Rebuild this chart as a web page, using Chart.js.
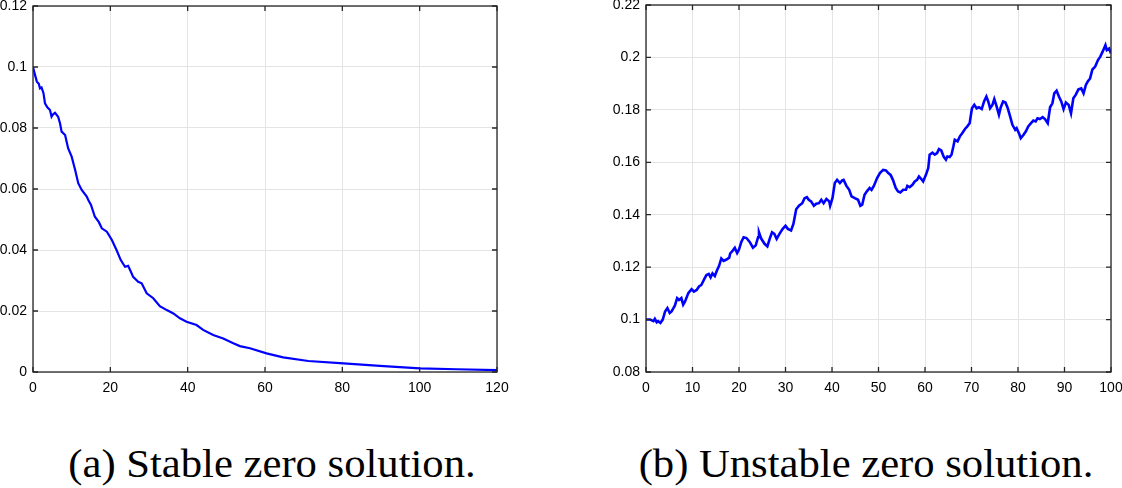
<!DOCTYPE html>
<html>
<head>
<meta charset="utf-8">
<script src="https://cdn.jsdelivr.net/npm/chart.js@4/dist/chart.umd.min.js"></script>
<style>
  body { margin: 0; background: #fff; width: 1122px; height: 488px; position: relative; overflow: hidden; }
  .panel { position: absolute; top: 0; height: 400px; }
  .caption {
    position: absolute; top: 441px; width: 600px; text-align: center;
    font-family: "Liberation Serif", "DejaVu Serif", serif; font-size: 41px; line-height: 44px; color: #000;
    transform: scaleX(1.04);
  }
</style>
</head>
<body>
<div class="panel" style="left:0; width:520px;"><canvas id="stable-chart"></canvas></div>
<div class="panel" style="left:560px; width:562px;"><canvas id="unstable-chart"></canvas></div>
<div class="caption" style="left:-28px;">(a) Stable zero solution.</div>
<div class="caption" style="left:566px;">(b) Unstable zero solution.</div>
<script>
// (a) stable solution
const stableT = [0, 0.5, 1, 1.5, 1.8, 2.2, 2.7, 3.1, 3.7, 4.4, 4.8, 5.2, 5.7, 6.5, 7, 7.4, 8.3, 9.1, 10, 10.9, 11.7, 12.6, 13.9,
  14.3, 15, 16, 17, 17.8, 19.1, 20.4, 21.6, 22.7, 23.8, 24.6, 25.2, 25.9, 27.2, 28.1, 29.4, 31.1, 32.8, 34.6, 36.3, 38,
  39.7, 42.3, 44, 46.6, 49.2, 51.8, 53.5, 56.1, 60.4, 64.7, 71.2, 80.3, 89.7, 100, 109.6, 120];
const stableY = [0.1, 0.0975, 0.0952, 0.0945, 0.093, 0.0933, 0.0915, 0.0881, 0.0868, 0.0859, 0.0837, 0.0845, 0.085, 0.0837, 0.0815, 0.0788, 0.0777, 0.0733, 0.0706, 0.0662, 0.0619, 0.0597, 0.0575,
  0.0564, 0.0548, 0.0509, 0.0492, 0.0471, 0.046, 0.0433, 0.04, 0.0367, 0.0345, 0.0348, 0.0332, 0.0312, 0.0296, 0.0291, 0.0258, 0.0242, 0.0216, 0.0203, 0.0192, 0.0176,
  0.0165, 0.0154, 0.0138, 0.0121, 0.011, 0.0094, 0.0085, 0.0078, 0.0061, 0.0048, 0.0036, 0.0028, 0.002, 0.0012, 0.0009, 0.0006];

// (b) unstable solution
const unstableT = [0, 0.9, 1.6, 1.9, 2.3, 2.6, 3.1, 3.6, 4.1, 4.6, 5.1, 5.5, 5.9, 6.2, 6.7, 7.1, 7.6, 8, 8.4, 9.1, 9.8, 10.3, 10.9, 11.4, 11.9,
  12.6, 13, 13.5, 13.9, 14.3, 14.8, 15.3, 15.7, 16.2, 16.7, 17.3, 17.9, 18.1, 18.7, 19.1, 19.6, 20, 20.5, 21, 21.6, 22.3, 23, 23.6, 24.1, 24.3,
  24.8, 25.5, 26.1, 26.6, 27.1, 27.6, 28.1, 28.7, 29.4, 30, 30.5, 31.2, 31.7, 32.3, 32.9, 33.6, 34.1, 34.6, 35, 35.5, 36.1, 36.6, 37.2, 37.7,
  38.2, 38.8, 39.4, 39.6, 40.1, 40.6, 41.1, 41.7, 42.2, 42.5, 43.1, 43.7, 44.2, 44.9, 45.6, 46.1, 46.5, 47, 47.5, 48.1, 48.5, 49, 49.7, 50.3,
  51, 51.6, 52.1, 52.6, 53.1, 53.7, 54.2, 54.7, 55.3, 55.9, 56.2, 56.7, 57.3, 57.8, 58.3, 58.7, 59.2, 59.6, 60.2, 60.7, 61, 61.6, 62.1, 62.6,
  63, 63.5, 64, 64.5, 64.8, 65.3, 65.7, 66.1, 66.4, 67, 67.5, 68, 68.6, 69.1, 69.6, 70.1, 70.6, 71.1, 71.6, 72.2, 72.7, 73.2, 73.6, 74, 74.5,
  74.9, 75.4, 75.9, 76.3, 76.8, 77.3, 77.8, 78.3, 78.8, 79.4, 79.7, 80.2, 80.6, 81.2, 81.7, 82.2, 82.8, 83.3, 83.8, 84.2, 84.7, 85.3, 85.8,
  86.4, 86.9, 87.4, 87.8, 88.3, 88.8, 89.3, 89.8, 90.3, 90.9, 91.4, 91.9, 92.4, 93, 93.6, 94.1, 94.6, 95, 95.5, 96, 96.6, 97.2, 97.7, 98.2,
  98.8, 99.1, 99.6, 100];
const unstableY = [0.1, 0.1, 0.0994, 0.1003, 0.099, 0.0994, 0.0987, 0.1, 0.1031, 0.1044, 0.1025, 0.1031, 0.1044, 0.1053, 0.1082, 0.1075, 0.1082, 0.1057, 0.1069, 0.1101, 0.1116, 0.1107, 0.1113, 0.1126, 0.1132,
  0.1157, 0.117, 0.1174, 0.1161, 0.1176, 0.1166, 0.1189, 0.1204, 0.1233, 0.1224, 0.1229, 0.1236, 0.1252, 0.1264, 0.1274, 0.1254, 0.1267, 0.1296, 0.1314, 0.1311, 0.1296, 0.1274, 0.1283, 0.1314, 0.1333,
  0.1308, 0.1289, 0.1279, 0.1308, 0.1333, 0.1327, 0.1308, 0.1327, 0.1346, 0.1358, 0.1346, 0.134, 0.1365, 0.1421, 0.1434, 0.1444, 0.1463, 0.1467, 0.1457, 0.1451, 0.1434, 0.1442, 0.1444, 0.1457,
  0.1444, 0.146, 0.1451, 0.1434, 0.1463, 0.1521, 0.1533, 0.1521, 0.1531, 0.1533, 0.151, 0.1495, 0.147, 0.1463, 0.1457, 0.1434, 0.1438, 0.1476, 0.1489, 0.1502, 0.1495, 0.151, 0.154, 0.1559,
  0.1571, 0.1569, 0.1559, 0.1552, 0.1533, 0.1502, 0.1489, 0.1485, 0.1495, 0.1495, 0.151, 0.1505, 0.1514, 0.1527, 0.1533, 0.1546, 0.1536, 0.1527, 0.1552, 0.1578, 0.1629, 0.1637, 0.1629, 0.1635,
  0.165, 0.1645, 0.1622, 0.161, 0.1622, 0.162, 0.1629, 0.166, 0.1686, 0.168, 0.1699, 0.1711, 0.1727, 0.1737, 0.1749, 0.1806, 0.1819, 0.1806, 0.181, 0.1803, 0.1832, 0.1851, 0.1832, 0.1806, 0.1819,
  0.1841, 0.1813, 0.1781, 0.181, 0.1832, 0.1828, 0.1806, 0.1775, 0.1743, 0.1724, 0.173, 0.1711, 0.1692, 0.1705, 0.1718, 0.1737, 0.1749, 0.1759, 0.1756, 0.1768, 0.1765, 0.1772, 0.1765,
  0.1749, 0.181, 0.1825, 0.1863, 0.1873, 0.1851, 0.1832, 0.1803, 0.1828, 0.1819, 0.1787, 0.1844, 0.1857, 0.1878, 0.1882, 0.1863, 0.1895, 0.1908, 0.192, 0.1954, 0.1965, 0.199, 0.2003, 0.2022,
  0.2047, 0.2028, 0.2034, 0.2015];

const axisColor = '#262626';
const gridColor = '#e4e4e4';
const tickFont = { family: '"Liberation Sans", Arial, sans-serif', size: 14 };

// MATLAB-like box with inward ticks on all four sides
const boxPlugin = {
  id: 'box',
  afterDraw(chart) {
    const { ctx, chartArea: a, scales } = chart;
    const len = 5;
    ctx.save();
    ctx.strokeStyle = axisColor;
    ctx.lineWidth = 1.3;
    ctx.strokeRect(a.left, a.top, a.right - a.left, a.bottom - a.top);
    ctx.beginPath();
    scales.x.ticks.forEach(t => {
      const px = scales.x.getPixelForValue(t.value);
      ctx.moveTo(px, a.bottom); ctx.lineTo(px, a.bottom - len);
      ctx.moveTo(px, a.top); ctx.lineTo(px, a.top + len);
    });
    scales.y.ticks.forEach(t => {
      const py = scales.y.getPixelForValue(t.value);
      ctx.moveTo(a.left, py); ctx.lineTo(a.left + len, py);
      ctx.moveTo(a.right, py); ctx.lineTo(a.right - len, py);
    });
    ctx.stroke();
    ctx.restore();
  }
};

const fmt = v => String(parseFloat(Number(v).toFixed(2)));

function makeChart(id, xs, ys, xr, yr, yAxisWidth, pad, lineWidth) {
  const ctx = document.getElementById(id).getContext('2d');
  return new Chart(ctx, {
    type: 'line',
    data: {
      datasets: [{
        data: xs.map((x, i) => ({ x: x, y: ys[i] })),
        borderColor: '#0000ff',
        borderWidth: lineWidth,
        pointRadius: 0,
        tension: 0,
        fill: false
      }]
    },
    options: {
      responsive: true,
      maintainAspectRatio: false,
      animation: false,
      layout: { padding: pad },
      plugins: { legend: { display: false }, tooltip: { enabled: false } },
      scales: {
        x: {
          type: 'linear', min: xr[0], max: xr[1],
          ticks: { stepSize: xr[2], color: '#000', font: tickFont, padding: 8, maxRotation: 0, callback: fmt },
          grid: { color: gridColor, drawTicks: false },
          border: { display: false },
          // keep the plot box where it is, labels may hang over the edge
          afterFit: s => { s.height = 28; s.paddingLeft = 0; s.paddingRight = 0; }
        },
        y: {
          min: yr[0], max: yr[1],
          ticks: { stepSize: yr[2], color: '#000', font: tickFont, padding: 6, callback: fmt },
          grid: { color: gridColor, drawTicks: false },
          border: { display: false },
          afterFit: s => { s.width = yAxisWidth; s.paddingTop = 0; s.paddingBottom = 0; }
        }
      }
    },
    plugins: [boxPlugin]
  });
}

makeChart('stable-chart', stableT, stableY, [0, 120, 20], [0, 0.12, 0.02], 33,
  { top: 6, right: 23, bottom: 0, left: 0 }, 2.2);
makeChart('unstable-chart', unstableT, unstableY, [0, 100, 10], [0.08, 0.22, 0.02], 86,
  { top: 5, right: 11, bottom: 0, left: 0 }, 2.6);
</script>
</body>
</html>
